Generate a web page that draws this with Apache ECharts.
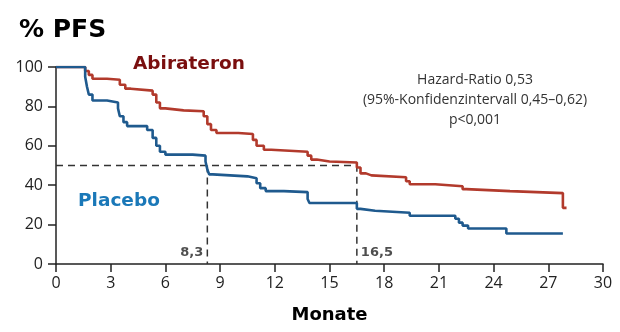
<!DOCTYPE html>
<html><head><meta charset="utf-8">
<script src="https://cdn.jsdelivr.net/npm/echarts@6/dist/echarts.min.js"></script>
<style>html,body{margin:0;padding:0;background:#fff}#c{width:620px;height:332px}</style>
</head><body><div id="c"></div>
<script>
// Kaplan-Meier steps: [month, % PFS]
const abirateron = [[0,100],[1.6,98],[1.8,96],[2.0,94],[2.8,93.5],[3.5,91],[3.8,89],[4.1,88],[5.3,86],[5.5,82],[5.7,79],[6.0,78],[7.0,77.5],[8.1,75],[8.3,71],[8.5,68],[8.8,66.5],[10.0,66],[10.8,63],[11.0,60],[11.4,58],[11.8,57],[13.8,55],[14.0,53],[14.3,52],[15.0,51.5],[16.5,49],[16.7,46],[17.0,45],[17.3,44],[19.2,42],[19.4,40.5],[20.8,39.5],[22.3,38],[22.5,37],[24.9,36],[27.8,28.5],[28.0,28.5]];
const placebo = [[0,100],[1.6,95],[1.7,90],[1.8,86],[2.0,83],[2.8,82],[3.4,79],[3.5,75],[3.7,72],[3.9,70],[5.0,68],[5.3,64],[5.5,60],[5.7,57],[6.0,55.5],[7.5,55],[8.2,52],[8.3,48],[8.4,45.5],[8.6,44.5],[10.5,43.5],[11.0,41],[11.2,38.5],[11.5,37],[12.5,36.5],[13.8,33],[13.9,31],[16.5,28],[16.7,27],[17.5,26],[19.4,24.5],[21.9,23],[22.1,21],[22.3,19.5],[22.6,18],[24.7,15.5],[27.8,15.5]];
const medians = [8.3, 16.5];
const medianLabels = ['8,3', '16,5'];
const xTicks = [0,3,6,9,12,15,18,21,24,27,30];
const yTicks = [0,20,40,60,80,100];

const chart = echarts.init(document.getElementById('c'));
const axisCol = '#222';
chart.setOption({
  animation:false,
  backgroundColor:'#fff',
  grid:{left:56,right:17,top:67,bottom:68},
  xAxis:{type:'value',min:0,max:30,interval:3,
    axisLine:{lineStyle:{color:axisCol,width:1.5}},
    axisTick:{show:true,length:8,lineStyle:{color:axisCol,width:1.5}},
    axisLabel:{color:'#222',fontSize:16,fontFamily:'Open Sans',margin:11},
    splitLine:{show:false},
    name:'Monate',nameLocation:'middle',nameGap:42,
    nameTextStyle:{fontFamily:'DejaVu Sans',fontWeight:'bold',fontSize:18,color:'#000'}},
  yAxis:{type:'value',min:0,max:100,interval:20,
    axisLine:{show:true,lineStyle:{color:axisCol,width:1.5}},
    axisTick:{show:true,length:8,lineStyle:{color:axisCol,width:1.5}},
    axisLabel:{color:'#222',fontSize:16,fontFamily:'Open Sans',margin:13},
    splitLine:{show:false}},
  graphic:[
    {type:'text',left:19,top:18,style:{text:'% PFS',font:'bold 25px "DejaVu Sans"',fill:'#000'}},
    {type:'text',left:133,top:55,style:{text:'Abirateron',font:'bold 18.5px "DejaVu Sans"',fill:'#7a0f0f'}},
    {type:'text',left:78,top:192,style:{text:'Placebo',font:'bold 18.5px "DejaVu Sans"',fill:'#1a78b8'}},
    {type:'text',x:475,y:70,style:{text:'Hazard-Ratio 0,53\n(95%-Konfidenzintervall 0,45–0,62)\np<0,001',
      font:'14px "Open Sans"',fill:'#333',align:'center',lineHeight:20}}
  ],
  series:[
    {type:'line',data:[[0,50],[medians[1],50],[medians[1],0]],symbol:'none',silent:true,
      lineStyle:{color:'#333',width:1.5,type:[7,5]},z:1},
    {type:'line',data:[[medians[0],50],[medians[0],0]],symbol:'none',silent:true,
      lineStyle:{color:'#333',width:1.5,type:[7,5]},z:1},
    {type:'scatter',symbolSize:0,silent:true,
      data:[
        {value:[medians[0],6],label:{show:true,position:'left',distance:4,formatter:medianLabels[0]}},
        {value:[medians[1],6],label:{show:true,position:'right',distance:4,formatter:medianLabels[1]}}
      ],
      label:{color:'#222',fontFamily:'DejaVu Sans',fontWeight:'bold',fontSize:13}},
    {type:'line',step:'end',data:abirateron,symbol:'none',lineStyle:{color:'#b23a2c',width:2.6},z:3},
    {type:'line',step:'end',data:placebo,symbol:'none',lineStyle:{color:'#1f5a8e',width:2.6},z:3}
  ]
});
</script></body></html>
